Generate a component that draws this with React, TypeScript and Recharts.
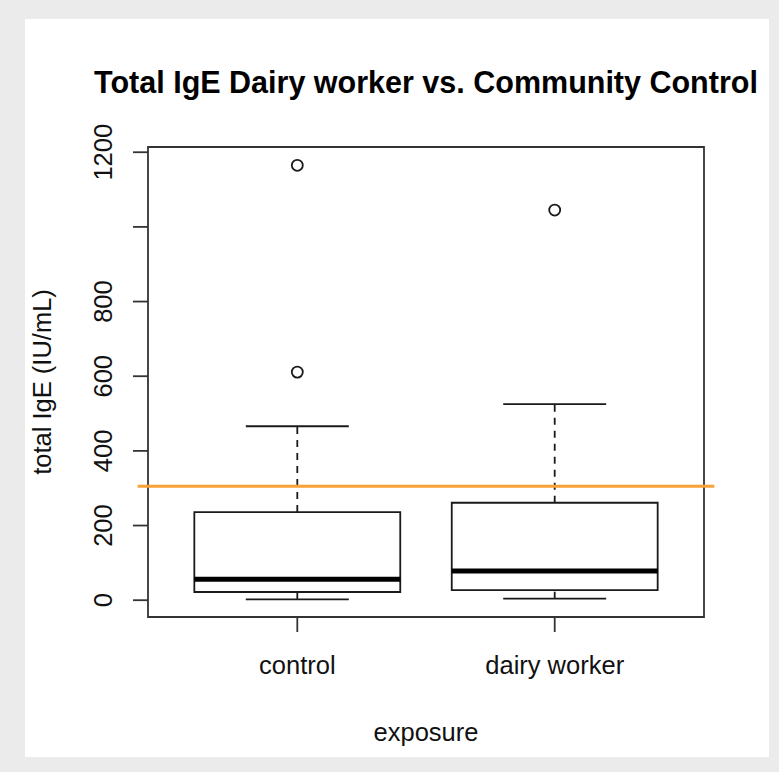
import React from 'react';
import {
  ComposedChart,
  XAxis,
  YAxis,
  Scatter,
  ReferenceArea,
  ReferenceLine,
} from 'recharts';

const categories = ['control', 'dairy worker'];
const positions = [1, 2];
const whiskerLow = [2, 4];
const quartile1 = [22, 27];
const medians = [56, 78];
const quartile3 = [236, 261];
const whiskerHigh = [466, 525];
const outliers = [[611, 1165], [1045]];
const yTicks = [0, 200, 400, 600, 800, 1000, 1200];
const thresholdValue = 305;

const FONT = '"Liberation Sans", Arial, Helvetica, sans-serif';
const INK = '#1a1a1a';
const BOX_HALF = 0.4;
const CAP_HALF = 0.2;

const outlierData = outliers.flatMap((vals, i) =>
  vals.map((v) => ({ x: positions[i], y: v }))
);

const YTick = (props: any) => {
  const { x, y, payload } = props;
  // R skips the 1000 label because it would overlap its neighbours
  if (payload.value === 1000) return null;
  const bx = x - 21;
  return (
    <text
      x={bx}
      y={y}
      transform={`rotate(-90, ${bx}, ${y})`}
      textAnchor="middle"
      fontSize={25.5}
      fontFamily={FONT}
      fill="#111"
    >
      {payload.value}
    </text>
  );
};

const OutlierDot = (props: any) => (
  <circle cx={props.cx} cy={props.cy} r={5.5} fill="none" stroke={INK} strokeWidth={1.8} />
);

export default function App() {
  const W = 744;
  const H = 738;
  return (
    <div
      style={{
        position: 'absolute',
        left: 0,
        top: 0,
        width: 779,
        height: 772,
        background: '#ebebeb',
      }}
    >
      <div
        style={{
          position: 'absolute',
          left: 25,
          top: 19,
          width: W,
          height: H,
          background: '#ffffff',
        }}
      >
        <ComposedChart
          width={W}
          height={H}
          margin={{ top: 128, right: 65, bottom: 40, left: 43 }}
        >
          <XAxis
            type="number"
            dataKey="x"
            domain={[0.42, 2.58]}
            ticks={positions}
            interval={0}
            allowDataOverflow
            tickFormatter={(v) => categories[v - 1] ?? ''}
            axisLine={false}
            tickSize={15}
            tickMargin={24}
            height={100}
            tickLine={{ stroke: '#333', strokeWidth: 1.8 }}
            tick={{ fontSize: 25.5, fontFamily: FONT, fill: '#111' }}
          />
          <YAxis
            type="number"
            dataKey="y"
            domain={[-45, 1214]}
            ticks={yTicks}
            interval={0}
            allowDataOverflow
            width={80}
            axisLine={false}
            tickSize={15}
            tickMargin={0}
            tickLine={{ stroke: '#333', strokeWidth: 1.8 }}
            tick={<YTick />}
          />
          <ReferenceArea
            x1={0.42}
            x2={2.58}
            y1={-45}
            y2={1214}
            fill="none"
            fillOpacity={0}
            stroke="#333"
            strokeWidth={1.8}
            ifOverflow="visible"
          />
          {positions.map((p, i) => (
            <ReferenceArea
              key={`box-${i}`}
              x1={p - BOX_HALF}
              x2={p + BOX_HALF}
              y1={quartile1[i]}
              y2={quartile3[i]}
              fill="#ffffff"
              fillOpacity={1}
              stroke={INK}
              strokeWidth={1.8}
            />
          ))}
          {positions.map((p, i) => (
            <ReferenceLine
              key={`uw-${i}`}
              segment={[{ x: p, y: quartile3[i] }, { x: p, y: whiskerHigh[i] }]}
              stroke={INK}
              strokeWidth={1.8}
              strokeDasharray="7 6"
            />
          ))}
          {positions.map((p, i) => (
            <ReferenceLine
              key={`lw-${i}`}
              segment={[{ x: p, y: whiskerLow[i] }, { x: p, y: quartile1[i] }]}
              stroke={INK}
              strokeWidth={1.8}
              strokeDasharray="7 6"
            />
          ))}
          {positions.map((p, i) => (
            <ReferenceLine
              key={`uc-${i}`}
              segment={[{ x: p - CAP_HALF, y: whiskerHigh[i] }, { x: p + CAP_HALF, y: whiskerHigh[i] }]}
              stroke={INK}
              strokeWidth={1.8}
            />
          ))}
          {positions.map((p, i) => (
            <ReferenceLine
              key={`lc-${i}`}
              segment={[{ x: p - CAP_HALF, y: whiskerLow[i] }, { x: p + CAP_HALF, y: whiskerLow[i] }]}
              stroke={INK}
              strokeWidth={1.8}
            />
          ))}
          {positions.map((p, i) => (
            <ReferenceLine
              key={`med-${i}`}
              segment={[{ x: p - BOX_HALF, y: medians[i] }, { x: p + BOX_HALF, y: medians[i] }]}
              stroke="#000"
              strokeWidth={5}
            />
          ))}
          <ReferenceLine
            segment={[{ x: 0.38, y: thresholdValue }, { x: 2.62, y: thresholdValue }]}
            stroke="#f7a136"
            strokeWidth={3}
            ifOverflow="visible"
          />
          <Scatter
            data={outlierData}
            dataKey="y"
            shape={<OutlierDot />}
            isAnimationActive={false}
          />
        </ComposedChart>
        <svg
          width={W}
          height={H}
          style={{ position: 'absolute', left: 0, top: 0, pointerEvents: 'none' }}
        >
          <text
            x={401}
            y={74}
            textAnchor="middle"
            fontSize={30.5}
            fontWeight="bold"
            fontFamily={FONT}
            fill="#000"
          >
            Total IgE Dairy worker vs. Community Control
          </text>
          <text
            x={26}
            y={363}
            transform="rotate(-90, 26, 363)"
            textAnchor="middle"
            fontSize={25.5}
            fontFamily={FONT}
            fill="#111"
          >
            total IgE (IU/mL)
          </text>
          <text
            x={401}
            y={722}
            textAnchor="middle"
            fontSize={25.5}
            fontFamily={FONT}
            fill="#111"
          >
            exposure
          </text>
        </svg>
      </div>
    </div>
  );
}
